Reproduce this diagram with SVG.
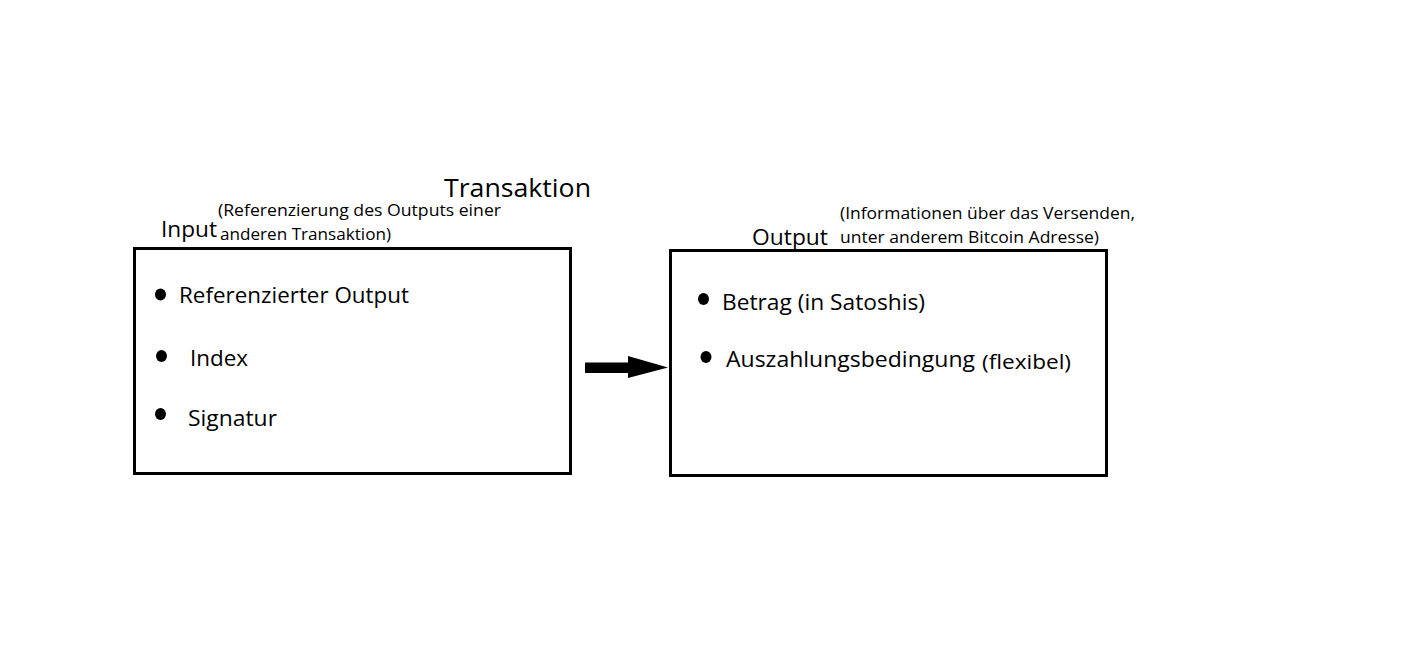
<svg xmlns="http://www.w3.org/2000/svg" width="1416" height="672" viewBox="0 0 1416 672">
<style>
text{font-family:"Open Sans","Noto Sans","Liberation Sans",sans-serif;fill:#000}
.t{font-size:26px}
.h{font-size:21px}
.i{font-size:21px}
.s{font-size:17px}
.box{fill:#fff;stroke:#000;stroke-width:3}
</style>
<rect width="1416" height="672" fill="#fff"/>
<g id="title"><text class="t" x="444" y="197" textLength="147" lengthAdjust="spacingAndGlyphs">Transaktion</text></g>
<g id="input">
<rect class="box" x="134.5" y="248.5" width="436" height="225"/>
<text class="h" x="161" y="237" textLength="56" lengthAdjust="spacingAndGlyphs">Input</text>
<text class="s" x="218" y="216" textLength="283" lengthAdjust="spacingAndGlyphs">(Referenzierung des Outputs einer</text>
<text class="s" x="220" y="240" textLength="171" lengthAdjust="spacingAndGlyphs">anderen Transaktion)</text>
<ellipse cx="160.5" cy="294.5" rx="5.5" ry="6"/>
<text class="i" x="179" y="303" textLength="230" lengthAdjust="spacingAndGlyphs">Referenzierter Output</text>
<ellipse cx="161.5" cy="356" rx="5.5" ry="6"/>
<text class="i" x="190" y="366" textLength="58" lengthAdjust="spacingAndGlyphs">Index</text>
<ellipse cx="160.5" cy="414" rx="5.5" ry="6"/>
<text class="i" x="188" y="426" textLength="89" lengthAdjust="spacingAndGlyphs">Signatur</text>
</g>
<g id="output">
<rect class="box" x="670.5" y="250.5" width="436" height="225"/>
<text class="h" x="752" y="245" textLength="76" lengthAdjust="spacingAndGlyphs">Output</text>
<text class="s" x="840" y="219" textLength="295" lengthAdjust="spacingAndGlyphs">(Informationen über das Versenden,</text>
<text class="s" x="840" y="243" textLength="259" lengthAdjust="spacingAndGlyphs">unter anderem Bitcoin Adresse)</text>
<ellipse cx="703.5" cy="299" rx="5.5" ry="6"/>
<text class="i" x="722" y="310" textLength="203" lengthAdjust="spacingAndGlyphs">Betrag (in Satoshis)</text>
<ellipse cx="706" cy="357" rx="5.5" ry="6"/>
<text class="i" x="726" y="367" textLength="249" lengthAdjust="spacingAndGlyphs">Auszahlungsbedingung</text>
<text class="s" x="982" y="369" style="font-size:20px" textLength="89" lengthAdjust="spacingAndGlyphs">(flexibel)</text>
</g>
<g id="connectors">
<polygon points="585,362.5 628,362.5 628,356 668,367.5 628,378 628,373 585,373" fill="#000"/>
</g>
</svg>
